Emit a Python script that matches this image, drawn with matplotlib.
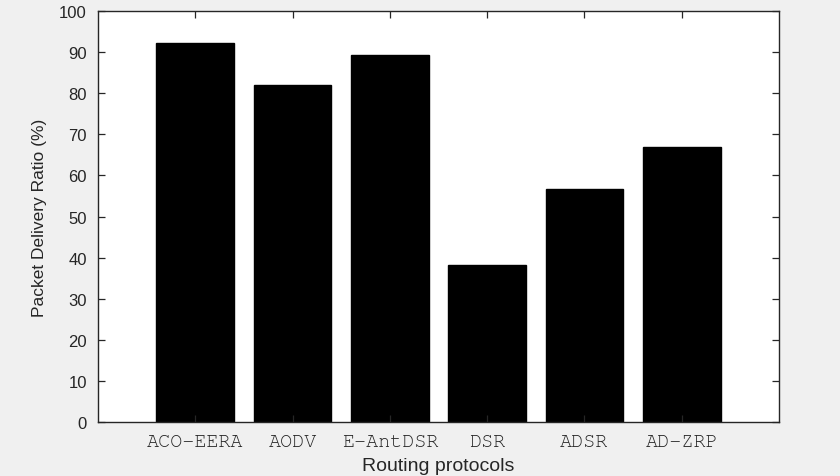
import matplotlib
matplotlib.use('AGG')

import matplotlib.pyplot as plt

protocols = ['ACO-EERA', 'AODV', 'E-AntDSR', 'DSR', 'ADSR', 'AD-ZRP']
pdr = [92.2, 82.0, 89.3, 38.3, 56.8, 66.8]
yticks = list(range(0, 101, 10))

GRAY = '#262626'
MONO = ['Courier New', 'Nimbus Mono PS', 'FreeMono', 'Liberation Mono']


def plot_pdr():
  plt.rcParams['font.family'] = ['Liberation Sans', 'DejaVu Sans']
  fig = plt.figure(figsize=(8.4, 4.77), dpi=100, facecolor='#f0f0f0')
  ax = fig.add_axes([98 / 840, 54 / 477, 681 / 840, 411 / 477])
  ax.set_facecolor('white')

  xs = list(range(1, len(protocols) + 1))
  ax.bar(xs, pdr, width=0.8, color='black', edgecolor='black')

  ax.set_xlim(0, 7)
  ax.set_ylim(0, 100)
  ax.set_yticks(yticks)
  ax.set_xticks(xs)
  ax.set_xticklabels(protocols, family=MONO, fontsize=14.5, color='#1a1a1a')
  ax.tick_params(axis='both', direction='in', length=5, width=0.9,
                 colors=GRAY, top=True, right=True)
  ax.tick_params(axis='y', labelsize=12, pad=8)
  ax.tick_params(axis='x', pad=8)
  for s in ax.spines.values():
    s.set_color(GRAY)
    s.set_linewidth(1.0)

  ax.set_ylabel('Packet Delivery Ratio (%)', fontsize=12.5, color=GRAY,
                labelpad=9)
  ax.set_xlabel('Routing protocols', fontsize=14, color=GRAY, labelpad=5)

  fig.savefig('out.png', dpi=100, facecolor=fig.get_facecolor())


def main():
  plot_pdr()

if __name__ == "__main__":
    main()
